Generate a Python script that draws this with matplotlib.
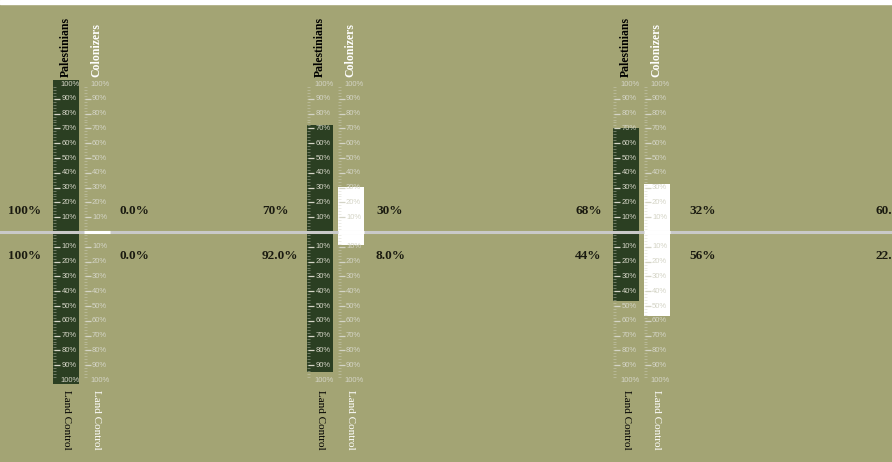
#! /usr/bin/env python

import matplotlib.pyplot as plt
from matplotlib.patches import Rectangle

# Land control (upwards) and population share (downwards) per stage
pal_land   = [100, 70, 68, 60.0]
col_land   = [0.0, 30, 32, 40.0]
pal_pop    = [100, 92.0, 44, 22.0]
col_pop    = [0.0, 8.0, 56, 78.0]

pal_land_labels = ["100%", "70%", "68%", "60.0%"]
col_land_labels = ["0.0%", "30%", "32%", "40.0%"]
pal_pop_labels  = ["100%", "92.0%", "44%", "22.0%"]
col_pop_labels  = ["0.0%", "8.0%", "56%", "78.0%"]

scale_ticks = [10, 20, 30, 40, 50, 60, 70, 80, 90]

# layout, in pixels across the page
bar_x     = [53, 307, 613, 919]
left_x    = [8, 262, 575, 875]
right_x   = [120, 376, 689, 995]
col_w     = 26
col_gap   = 30.5

bg_color   = '#a3a474'
dark_color = '#2b3f22'
tick_color = '#d4d4c6'
line_color = '#c9c9c9'

W, H = 892, 462
px_per_pct = 1.48
zero_px = 232

fig = plt.figure(figsize=(W / 100, H / 100), dpi=100, facecolor=bg_color)
ax = fig.add_axes([0, 0, 1, 1])
ax.set_facecolor(bg_color)
ax.set_xlim(0, W)
ax.set_ylim(-(H - zero_px) / px_per_pct, zero_px / px_per_pct)
ax.axis('off')

serif = ['Liberation Serif', 'DejaVu Serif']
sans = ['Liberation Sans', 'DejaVu Sans']


def draw_scale(x0):
    # minor ticks every 2 %
    for v in range(2, 100, 2):
        for sign in (1, -1):
            ax.plot([x0, x0 + 3], [sign * v, sign * v], color=tick_color,
                    lw=0.5, alpha=0.6, solid_capstyle='butt', zorder=3)
    for v in scale_ticks:
        for sign in (1, -1):
            ax.plot([x0 + 1, x0 + 7], [sign * v, sign * v], color=tick_color,
                    lw=0.9, solid_capstyle='butt', zorder=3)
            ax.text(x0 + 8.5, sign * v, f"{v}%", fontsize=5.5, family=sans,
                    color=tick_color, va='center', ha='left', zorder=4)
    for sign in (1, -1):
        ax.text(x0 + 7, sign * 100, "100%", fontsize=5.5, family=sans,
                color=tick_color, va='center', ha='left', zorder=4)


for i in range(len(pal_land)):
    px = bar_x[i]
    cx = px + col_gap

    # the last stage only peeks in at the right edge: its labels are cut off
    if px < W:
        # Palestinians bar (dark) and colonizers bar (white)
        ax.bar(px, pal_land[i] + pal_pop[i] + 5, bottom=-(pal_pop[i] + 2.5),
               width=col_w, align='edge', color=dark_color, zorder=1)
        if col_land[i] + col_pop[i] > 0:
            ax.bar(cx, col_land[i] + col_pop[i] + 1.5, bottom=-(col_pop[i] + 0.8),
                   width=col_w, align='edge', color='white', zorder=1)

        draw_scale(px)
        draw_scale(cx)

        ax.text(px + col_w / 2, 104.5, "Palestinians", rotation=90, fontsize=8.5,
                family=serif, weight='bold', color='black', ha='center', va='bottom')
        ax.text(cx + col_w / 2, 104.5, "Colonizers", rotation=90, fontsize=8.5,
                family=serif, weight='bold', color='white', ha='center', va='bottom')
        ax.text(px + col_w / 2, -107, "Land Control", rotation=270, fontsize=8,
                family=serif, color='black', ha='center', va='top')
        ax.text(cx + col_w / 2, -107, "Land Control", rotation=270, fontsize=8,
                family=serif, color='white', ha='center', va='top')

    ax.text(left_x[i], 14.5, pal_land_labels[i], fontsize=9.5, family=serif,
            weight='bold', color='#1a1a10', ha='left', va='center')
    ax.text(left_x[i], -16.5, pal_pop_labels[i], fontsize=9.5, family=serif,
            weight='bold', color='#1a1a10', ha='left', va='center')
    if right_x[i] < W:
        ax.text(right_x[i], 14.5, col_land_labels[i], fontsize=9.5, family=serif,
                weight='bold', color='#1a1a10', ha='left', va='center')
        ax.text(right_x[i], -16.5, col_pop_labels[i], fontsize=9.5, family=serif,
                weight='bold', color='#1a1a10', ha='left', va='center')

# zero line across the page, white where it crosses the colonizer columns
ax.axhline(0, color=line_color, lw=2.2, zorder=2)
for i in range(len(col_land)):
    ax.plot([bar_x[i] + col_gap, bar_x[i] + col_gap + col_w], [0, 0],
            color='white', lw=2.2, solid_capstyle='butt', zorder=2)

# thin white strip along the top edge
fig.add_artist(Rectangle((0, 1 - 4 / H), 1, 4 / H, transform=fig.transFigure,
                         color='white', zorder=10))

fig.savefig("out.png", dpi=100, facecolor=bg_color)
